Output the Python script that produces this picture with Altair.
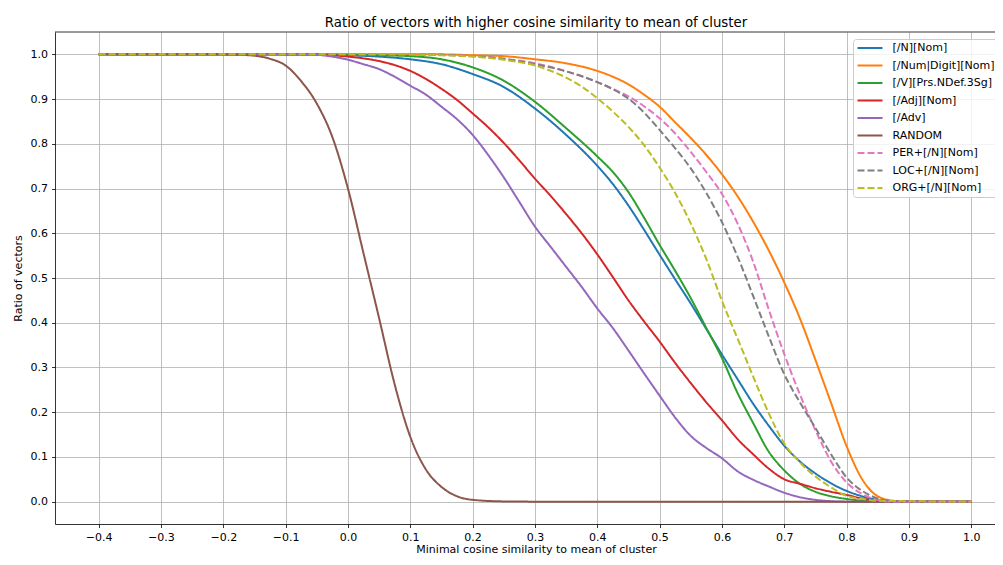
import altair as alt
import pandas as pd

SERIES = ["[/N][Nom]", "[/Num|Digit][Nom]", "[/V][Prs.NDef.3Sg]", "[/Adj][Nom]", "[/Adv]",
          "RANDOM", "PER+[/N][Nom]", "LOC+[/N][Nom]", "ORG+[/N][Nom]"]
COLORS = ["#1f77b4", "#ff7f0e", "#2ca02c", "#d62728", "#9467bd",
          "#8c564b", "#e377c2", "#7f7f7f", "#bcbd22"]
DASHES = [[1, 0]] * 6 + [[7, 3]] * 3

N_NOM_X = [-0.4, -0.05, 0.0, 0.05, 0.1, 0.15, 0.2, 0.25, 0.3, 0.35, 0.4, 0.425, 0.45, 0.475, 0.5, 0.525,
           0.55, 0.575, 0.6, 0.625, 0.65, 0.675, 0.7, 0.725, 0.75, 0.775, 0.8, 0.825, 0.85, 0.875, 1.0]
N_NOM_Y = [1.0, 1.0, 0.998, 0.995, 0.989, 0.978, 0.956, 0.927, 0.879, 0.82, 0.751, 0.71, 0.662, 0.608, 0.552, 0.497,
           0.443, 0.386, 0.329, 0.274, 0.219, 0.17, 0.125, 0.09, 0.063, 0.041, 0.024, 0.012, 0.004, 0.001, 0.0]

NUM_X = [-0.4, 0.15, 0.2, 0.25, 0.3, 0.35, 0.4, 0.425, 0.45, 0.475, 0.5, 0.525, 0.55, 0.575, 0.6, 0.625,
         0.65, 0.675, 0.7, 0.725, 0.75, 0.775, 0.8, 0.825, 0.85, 0.875, 0.9, 1.0]
NUM_Y = [1.0, 1.0, 0.998, 0.996, 0.989, 0.98, 0.963, 0.95, 0.933, 0.91, 0.883, 0.848, 0.813, 0.775, 0.732, 0.683,
         0.626, 0.562, 0.49, 0.41, 0.317, 0.221, 0.124, 0.05, 0.012, 0.002, 0.0, 0.0]

V_X = [-0.4, 0.0, 0.05, 0.1, 0.15, 0.2, 0.25, 0.3, 0.35, 0.4, 0.425, 0.45, 0.475, 0.5, 0.525, 0.55, 0.575,
       0.6, 0.625, 0.65, 0.675, 0.7, 0.725, 0.75, 0.775, 0.8, 0.825, 0.85, 1.0]
V_Y = [1.0, 0.999, 0.998, 0.996, 0.989, 0.971, 0.941, 0.894, 0.835, 0.772, 0.737, 0.692, 0.635, 0.574, 0.516, 0.455,
       0.388, 0.321, 0.243, 0.176, 0.112, 0.07, 0.04, 0.022, 0.012, 0.006, 0.002, 0.0, 0.0]

ADJ_X = [-0.4, -0.05, -0.025, 0.0, 0.025, 0.05, 0.075, 0.1, 0.125, 0.15, 0.175, 0.2, 0.225, 0.25, 0.275, 0.3,
         0.325, 0.35, 0.375, 0.4, 0.425, 0.45, 0.475, 0.5, 0.525, 0.55, 0.575, 0.6, 0.625, 0.65, 0.675, 0.7,
         0.725, 0.75, 0.775, 0.8, 0.825, 0.85, 0.875, 1.0]
ADJ_Y = [1.0, 1.0, 0.998, 0.995, 0.991, 0.985, 0.976, 0.963, 0.945, 0.923, 0.898, 0.868, 0.837, 0.802, 0.763, 0.722,
         0.684, 0.643, 0.60, 0.553, 0.502, 0.45, 0.403, 0.358, 0.31, 0.265, 0.222, 0.182, 0.14, 0.106, 0.074, 0.05,
         0.04, 0.03, 0.022, 0.015, 0.007, 0.002, 0.0, 0.0]

ADV_X = [-0.4, -0.075, -0.05, -0.025, 0.0, 0.025, 0.05, 0.075, 0.1, 0.125, 0.15, 0.175, 0.2, 0.225, 0.25, 0.275,
         0.3, 0.325, 0.35, 0.375, 0.4, 0.425, 0.45, 0.475, 0.5, 0.525, 0.55, 0.575, 0.6, 0.625, 0.65, 0.675,
         0.7, 0.725, 0.75, 0.775, 0.8, 1.0]
ADV_Y = [1.0, 1.0, 0.999, 0.995, 0.988, 0.978, 0.967, 0.95, 0.93, 0.91, 0.883, 0.855, 0.82, 0.775, 0.725, 0.67,
         0.615, 0.57, 0.525, 0.48, 0.432, 0.388, 0.338, 0.287, 0.237, 0.188, 0.147, 0.12, 0.097, 0.068, 0.049, 0.034,
         0.02, 0.01, 0.004, 0.001, 0.0, 0.0]

RANDOM_X = [-0.4, -0.2, -0.175, -0.15, -0.125, -0.1, -0.075, -0.05, -0.025, 0.0, 0.025, 0.05, 0.075, 0.1,
            0.125, 0.15, 0.175, 0.2, 0.25, 0.3, 1.0]
RANDOM_Y = [1.0, 1.0, 0.999, 0.997, 0.99, 0.975, 0.94, 0.89, 0.815, 0.70, 0.555, 0.41, 0.262, 0.145,
            0.072, 0.033, 0.012, 0.004, 0.0005, 0.0, 0.0]

NE_X = [-0.4, 0.1, 0.15, 0.2, 0.25, 0.3, 0.35, 0.4, 0.425, 0.45, 0.475, 0.5, 0.525, 0.55, 0.575, 0.6, 0.625,
        0.65, 0.675, 0.7, 0.725, 0.75, 0.775, 0.8, 0.825, 0.85, 0.875, 1.0]
PER_Y = [1.0, 1.0, 0.999, 0.996, 0.99, 0.98, 0.962, 0.938, 0.923, 0.906, 0.884, 0.857, 0.823, 0.782, 0.737, 0.688,
         0.622, 0.537, 0.43, 0.33, 0.24, 0.16, 0.09, 0.043, 0.017, 0.004, 0.0, 0.0]
LOC_Y = [1.0, 1.0, 0.999, 0.996, 0.99, 0.978, 0.962, 0.938, 0.922, 0.901, 0.87, 0.831, 0.79, 0.745, 0.69, 0.625,
         0.548, 0.46, 0.37, 0.285, 0.222, 0.165, 0.106, 0.054, 0.024, 0.007, 0.001, 0.0]

ORG_X = [-0.4, 0.1, 0.15, 0.2, 0.25, 0.3, 0.35, 0.375, 0.4, 0.425, 0.45, 0.475, 0.5, 0.525, 0.55, 0.575, 0.6,
         0.625, 0.65, 0.675, 0.7, 0.725, 0.75, 0.775, 0.8, 0.825, 0.85, 1.0]
ORG_Y = [1.0, 1.0, 0.998, 0.995, 0.988, 0.975, 0.948, 0.928, 0.902, 0.872, 0.838, 0.797, 0.747, 0.69, 0.622, 0.542,
         0.449, 0.365, 0.28, 0.198, 0.13, 0.088, 0.056, 0.032, 0.013, 0.006, 0.002, 0.0]

X_TICKS = [-0.4, -0.3, -0.2, -0.1, 0.0, 0.1, 0.2, 0.3, 0.4, 0.5, 0.6, 0.7, 0.8, 0.9, 1.0]
Y_TICKS = [0.0, 0.1, 0.2, 0.3, 0.4, 0.5, 0.6, 0.7, 0.8, 0.9, 1.0]

CURVES = [
    (N_NOM_X, N_NOM_Y), (NUM_X, NUM_Y), (V_X, V_Y), (ADJ_X, ADJ_Y), (ADV_X, ADV_Y),
    (RANDOM_X, RANDOM_Y), (NE_X, PER_Y), (NE_X, LOC_Y), (ORG_X, ORG_Y),
]

rows = []
for name, (xs, ys) in zip(SERIES, CURVES):
    for xv, yv in zip(xs, ys):
        rows.append({"series": name, "x": xv, "y": yv})
df = pd.DataFrame(rows)

FONT = "DejaVu Sans"
PLOT_W = 940
PLOT_H = 492

legend_kw = dict(
    orient="none", legendX=798, legendY=7,
    symbolType="stroke", symbolSize=625, symbolStrokeWidth=2,
    clipHeight=11, rowPadding=5.5, padding=3.5, labelOffset=9,
    labelFont=FONT, labelFontSize=11, labelColor="#000000", labelLimit=300,
    fillColor="rgba(255,255,255,0.8)", strokeColor="#cccccc", cornerRadius=3,
)

lines = alt.Chart(df).mark_line(strokeWidth=2, interpolate="monotone").encode(
    x=alt.X("x:Q",
            scale=alt.Scale(domain=[-0.47, 1.0381], nice=False, zero=False),
            axis=alt.Axis(values=X_TICKS, format=".1f",
                          title="Minimal cosine similarity to mean of cluster",
                          titleX=481, titleY=28, titleBaseline="alphabetic")),
    y=alt.Y("y:Q",
            scale=alt.Scale(domain=[-0.05, 1.05], nice=False, zero=False),
            axis=alt.Axis(values=Y_TICKS, format=".1f", title="Ratio of vectors",
                          labelPadding=4, titleX=-37, titleBaseline="middle")),
    color=alt.Color("series:N", title=None, sort=SERIES,
                    scale=alt.Scale(domain=SERIES, range=COLORS),
                    legend=alt.Legend(**legend_kw)),
    strokeDash=alt.StrokeDash("series:N", title=None, sort=SERIES,
                              scale=alt.Scale(domain=SERIES, range=DASHES),
                              legend=alt.Legend(**legend_kw)),
)

top_spine = alt.Chart(pd.DataFrame({"a": [0]})).mark_rule(color="#000000", strokeWidth=0.8).encode(
    x=alt.value(0), x2=alt.value(PLOT_W), y=alt.value(0)
)

chart = alt.layer(lines, top_spine).properties(
    width=PLOT_W, height=PLOT_H,
    title=alt.Title("Ratio of vectors with higher cosine similarity to mean of cluster",
                    font=FONT, fontSize=13.3, fontWeight="normal", color="#000000",
                    anchor="middle", frame="group", dx=11, dy=15, offset=6, baseline="alphabetic"),
    autosize=alt.AutoSizeParams(type="none"),
    padding={"left": 47, "top": 24, "right": 0, "bottom": 31},
).configure_view(strokeWidth=0).configure_axis(
    labelFont=FONT, labelFontSize=11, labelColor="#000000",
    titleFont=FONT, titleFontSize=11, titleFontWeight="normal", titleColor="#000000",
    tickColor="#000000", tickWidth=0.8, tickSize=3.5, labelPadding=3.5,
    domainColor="#000000", domainWidth=0.8,
    gridColor="#b0b0b0", gridWidth=0.8, gridOpacity=1,
)

chart.save("out.html", embed_options={"renderer": "svg", "actions": False})
